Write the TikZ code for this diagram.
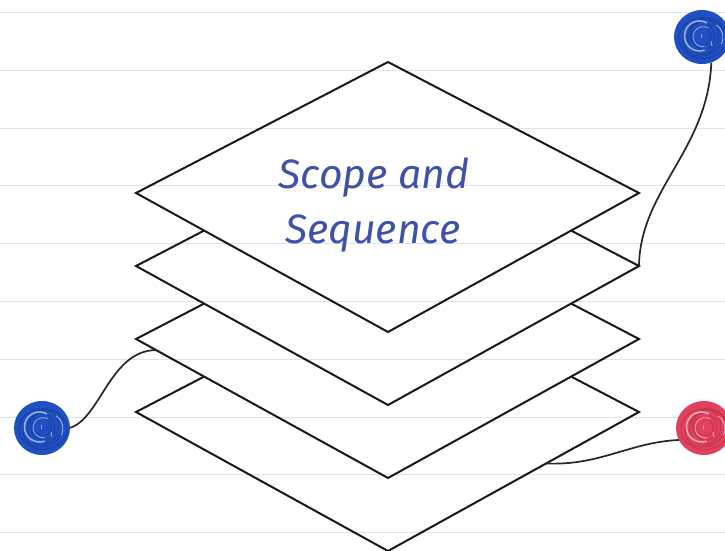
\documentclass[tikz,border=0pt]{standalone}
\usepackage{fontspec}
\newfontfamily\labelfont{Fira Sans}
\usetikzlibrary{calc}

\definecolor{ruleblue}{HTML}{D6E6F2}
\definecolor{inkblue}{HTML}{1F4FC2}
\definecolor{inkred}{HTML}{E3405D}
\definecolor{textblue}{HTML}{4052A8}

% a scribbled ink dot centred on a named node
\newcommand\inkdot[2]{%
  \fill[#2] (#1) ellipse (28 and 27);
  \foreach \a/\r in {0/24,35/21,70/18,110/14,150/10}
    \draw[#2!80!black, line width=0.7pt, rotate around={\a:(#1)}]
      ($(#1)+(1,1)$) ellipse ({\r} and {\r*0.85});
  \draw[white!55!#2, line width=1.6pt] ($(#1)+(5,-14)$)
    arc[start angle=300, end angle=70, radius=15];
  \draw[white!45!#2, line width=1pt] ($(#1)+(6,-9)$)
    arc[start angle=300, end angle=80, radius=10];
  \draw[white!50!#2, line width=1pt] ($(#1)+(-1,-3)$) -- ++(0,4);
  \draw[white!50!#2, line width=1pt] ($(#1)+(9,4)$) -- ++(1,5);
  \draw[white!60!#2, line width=0.8pt] ($(#1)+(14,-12)$)
    arc[start angle=-60, end angle=30, radius=14];
}

\begin{document}
\begin{tikzpicture}[x=1pt,y=-1pt,
  layer/.style={draw=black!90, fill=white, line width=2pt, line join=miter},
  wire/.style={draw=black!85, line width=1.7pt},
  rule/.style={draw=ruleblue, line width=1.1pt},
  dotnode/.style={circle, minimum size=54pt, inner sep=0pt},
  title/.style={text=textblue, anchor=base, inner sep=0pt,
    font=\labelfont\itshape\fontsize{41}{50}\selectfont}]

\useasboundingbox[fill=white] (0,0) rectangle (725,551);

% corner points of the four stacked sheets
\foreach \i/\c in {1/193,2/266,3/339,4/412}{
  \coordinate (L\i) at (136,\c);
  \coordinate (R\i) at (639,\c);
  \coordinate (T\i) at (388,\c-131);
  \coordinate (B\i) at (388,\c+139);
}

% sheets, bottom one first
\foreach \i in {4,3,2,1}
  \draw[layer] (T\i) -- (R\i) -- (B\i) -- (L\i) -- cycle;

% ruled lines of the paper, multiplied so that ink stays dark
\begin{scope}[blend mode=multiply]
  \foreach \k in {0,...,9}
    \draw[rule] (0,12.5+57.8*\k) -- (725,12.5+57.8*\k);
\end{scope}

% title
\node[title] (t1) at (374,188) {Scope and};
\node[title] (t2) at (373,243) {Sequence};

% ink dots
\node[dotnode] (c1) at (702,37) {};
\node[dotnode] (c2) at (42,428) {};
\node[dotnode] (c3) at (704,428) {};

% attachment points on the sheet edges
\coordinate (a3) at ($(L3)!0.08!(B3)$);
\coordinate (a4) at ($(R4)!0.37!(B4)$);

% connectors
\draw[wire] (c1.-70) .. controls (708,150) and (640,190) .. (R2);
\draw[wire] (c2.east) .. controls (100,420) and (110,350) .. (a3);
\draw[wire] (a4) .. controls (600,466) and (630,442) .. (c3.206);

\inkdot{c1}{inkblue}
\inkdot{c2}{inkblue}
\inkdot{c3}{inkred}

\end{tikzpicture}
\end{document}
